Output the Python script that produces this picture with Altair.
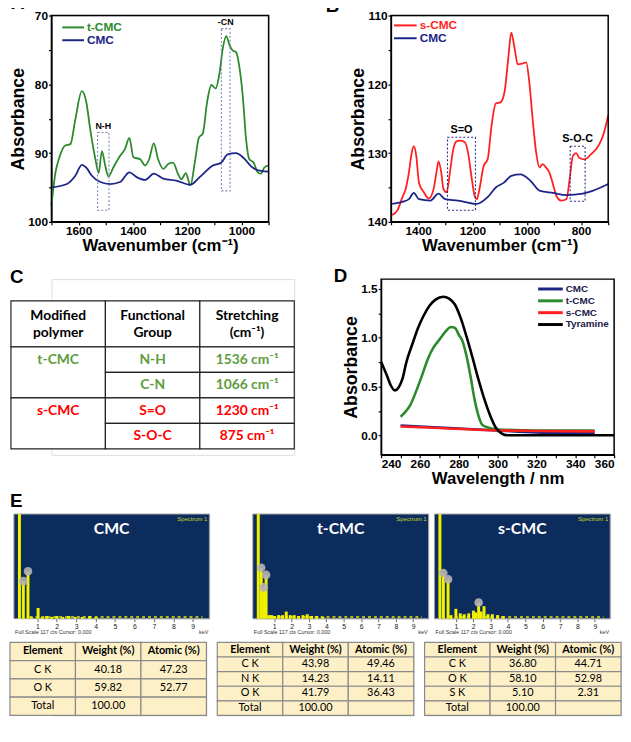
import altair as alt
import pandas as pd

FONT = "Liberation Sans"
TFONT = "Lato"
GREEN = "#2b8a2b"
NAVY = "#1c2488"
RED = "#ff1f1f"

# ---------------- Panel A : FTIR t-CMC vs CMC ----------------
a_tcmc_wn = [1700, 1685, 1673, 1649, 1630, 1612, 1588, 1572, 1557, 1538,
             1526, 1514, 1502, 1490, 1472, 1447, 1429, 1413, 1398, 1373,
             1355, 1340, 1323, 1307, 1288, 1270, 1252, 1234, 1221, 1205,
             1188, 1172, 1157, 1142, 1127, 1111, 1095, 1081, 1068, 1056,
             1044, 1032, 1020, 1008, 995, 983, 971, 955, 940, 928, 916, 900]
a_tcmc_abs = [97.6, 92.8, 90.9, 88.9, 88.7, 85.1, 81.0, 82.5, 86.6, 90.9,
              92.9, 89.7, 91.8, 93.4, 92.1, 90.4, 89.4, 87.8, 90.6, 90.9,
              91.8, 90.9, 88.6, 90.9, 92.3, 91.6, 91.4, 93.0, 93.8, 92.9,
              94.7, 91.4, 87.8, 87.1, 82.7, 80.1, 80.6, 78.4, 74.6, 73.0,
              74.3, 75.1, 75.3, 77.4, 81.8, 88.0, 90.9, 91.4, 92.8, 93.0, 92.1, 91.8]
a_cmc_wn = [1700, 1643, 1612, 1588, 1570, 1551, 1520, 1484, 1447, 1413, 1386, 1355, 1323,
            1288, 1240, 1188, 1154, 1105, 1075, 1051, 1020, 995, 959, 928, 900]
a_cmc_abs = [95.0, 94.5, 93.3, 91.7, 92.2, 93.3, 94.2, 94.5, 94.2, 92.8, 93.5, 93.9, 93.0,
             93.7, 94.0, 94.6, 93.5, 91.8, 91.4, 90.2, 90.0, 90.6, 92.1, 92.6, 92.7]
a_box_lo = [1488, 1042]
a_box_hi = [1530, 1074]
a_box_top = [87.0, 71.9]
a_box_bot = [98.3, 95.5]
a_box_txt = ["N-H", "-CN"]

# ---------------- Panel B : FTIR s-CMC vs CMC ----------------
b_scmc_wn = [1496, 1476, 1458, 1446, 1434, 1424, 1416, 1407, 1397, 1379,
             1361, 1343, 1331, 1325, 1315, 1307, 1295, 1283, 1271, 1259,
             1247, 1229, 1216, 1204, 1192, 1184, 1174, 1159, 1144, 1130,
             1114, 1096, 1081, 1069, 1057, 1045, 1033, 1017, 1002, 990,
             978, 965, 953, 941, 929, 917, 905, 891, 873, 854,
             842, 830, 818, 806, 788, 764, 734, 716, 700]
b_scmc_abs = [139.0, 138.3, 136.4, 135.2, 132.8, 130.0, 129.0, 130.4, 134.3, 135.7,
              136.6, 135.2, 132.4, 131.2, 132.8, 135.2, 135.7, 132.8, 129.5, 128.3,
              128.2, 128.4, 130.0, 133.3, 136.2, 136.7, 135.2, 131.9, 130.9, 126.1,
              122.8, 122.6, 120.9, 116.6, 112.5, 114.7, 117.1, 117.0, 116.8, 119.9,
              125.2, 130.0, 132.1, 131.6, 132.1, 132.8, 134.3, 136.2, 136.9, 136.7,
              133.8, 130.4, 130.0, 130.7, 130.9, 130.2, 128.8, 127.1, 124.5]
b_cmc_wn = [1496, 1458, 1434, 1416, 1397, 1355, 1325, 1301, 1253, 1184, 1144,
            1114, 1084, 1057, 1023, 987, 951, 903, 854, 794, 758, 700]
b_cmc_abs = [137.4, 137.1, 136.7, 135.8, 136.7, 136.9, 135.9, 136.7, 136.9, 137.4, 136.4,
             135.0, 134.3, 133.3, 133.1, 134.0, 135.5, 135.8, 136.1, 135.9, 135.5, 134.5]
b_box_lo = [1189, 785]
b_box_hi = [1292, 840]
b_box_top = [127.7, 129.0]
b_box_bot = [138.3, 137.0]
b_box_txt = ["S=O", "S-O-C"]

# ---------------- Panel C : table ----------------
c_header_1 = ["Modified", "Functional", "Stretching"]
c_header_2 = ["polymer", "Group", "(cm⁻¹)"]
c_polymer = ["t-CMC", "s-CMC"]
c_group = [["N-H", "C-N"], ["S=O", "S-O-C"]]
c_stretch = [["1536 cm⁻¹", "1066 cm⁻¹"], ["1230 cm⁻¹", "875 cm⁻¹"]]
c_color = ["#5e9c3c", "#ff0000"]

# ---------------- Panel D : UV-Vis ----------------
d_tyr_wl = [240, 243, 245, 247, 249, 251, 253, 256, 259, 262, 265, 268, 272,
            275, 278, 281, 284, 287, 290, 293, 296, 299, 302, 305, 310, 360]
d_tyr_abs = [0.75, 0.61, 0.51, 0.46, 0.49, 0.58, 0.75, 0.93, 1.10, 1.23, 1.33, 1.39, 1.42,
             1.40, 1.34, 1.20, 1.01, 0.80, 0.58, 0.38, 0.21, 0.08, 0.02, 0.0, 0.0, 0.0]
d_tcmc_wl = [250, 252, 255, 258, 261, 264, 267, 270, 273, 276, 278,
             280, 282, 284, 286, 288, 290, 292, 295, 300, 320, 350]
d_tcmc_abs = [0.19, 0.23, 0.31, 0.45, 0.61, 0.78, 0.90, 0.98, 1.06, 1.11, 1.10,
              1.03, 0.96, 0.81, 0.61, 0.38, 0.21, 0.11, 0.08, 0.06, 0.05, 0.05]
d_cmc_wl = [250, 270, 300, 320, 350]
d_cmc_abs = [0.10, 0.08, 0.05, 0.03, 0.02]
d_scmc_wl = [250, 270, 300, 320, 350]
d_scmc_abs = [0.09, 0.075, 0.05, 0.045, 0.04]
d_series = ["CMC", "t-CMC", "s-CMC", "Tyramine"]
d_colors = [NAVY, GREEN, RED, "black"]

# ---------------- Panel E : EDS ----------------
e_names = ["CMC", "t-CMC", "s-CMC"]
e_cmc_kev = [0.08, 0.28, 0.52, 0.70, 1.04, 1.25, 1.48, 1.74, 2.01, 2.31, 2.62, 2.95, 3.31, 3.69, 4.02]
e_cmc_cts = [117, 42, 53, 2, 12, 2, 3, 2, 3, 2, 3, 2, 2, 3, 2]
e_cmc_mk_kev = [0.28, 0.52]
e_cmc_mk_cts = [42, 53]
e_t_kev = [0.08, 0.25, 0.39, 0.53, 0.70, 0.85, 1.02, 1.25, 1.48, 1.69, 1.92, 2.15, 2.40, 2.65, 2.90, 3.15, 3.45, 3.80]
e_t_cts = [117, 57, 35, 49, 4, 4, 3, 4, 4, 8, 4, 4, 3, 4, 5, 3, 3, 2]
e_t_mk_kev = [0.25, 0.53, 0.39]
e_t_mk_cts = [57, 49, 35]
e_s_kev = [0.08, 0.28, 0.55, 0.72, 1.00, 1.25, 1.48, 1.74, 2.01, 2.15, 2.31, 2.45, 2.62, 2.85, 3.10, 3.40, 3.70]
e_s_cts = [117, 51, 44, 4, 11, 6, 5, 6, 9, 7, 18, 8, 14, 5, 5, 4, 3]
e_s_mk_kev = [0.28, 0.55, 2.31]
e_s_mk_cts = [51, 44, 18]
e_noise = [2, 2, 2]

e_tab_head = ["Element", "Weight (%)", "Atomic (%)"]
e_cmc_el = ["C K", "O K", "Total"]
e_cmc_wt = ["40.18", "59.82", "100.00"]
e_cmc_at = ["47.23", "52.77", ""]
e_t_el = ["C K", "N K", "O K", "Total"]
e_t_wt = ["43.98", "14.23", "41.79", "100.00"]
e_t_at = ["49.46", "14.11", "36.43", ""]
e_s_el = ["C K", "O K", "S K", "Total"]
e_s_wt = ["36.80", "58.10", "5.10", "100.00"]
e_s_at = ["44.71", "52.98", "2.31", ""]


# ---------------- helpers ----------------
def ax(**kw):
    base = dict(labelFont=FONT, labelFontWeight="bold", labelFontSize=12, labelColor="black",
                titleFont=FONT, titleFontWeight="bold", titleColor="black",
                domainColor="black", domainWidth=1.3, tickColor="black", tickWidth=1.2,
                tickSize=3, grid=False, labelPadding=1)
    base.update(kw)
    return alt.Axis(**base)


def letter(ch, x, y):
    return alt.Chart(pd.DataFrame({"t": [ch]})).mark_text(
        align="left", baseline="alphabetic", font=FONT, fontWeight="bold", fontSize=19,
        color="black").encode(x=alt.value(x), y=alt.value(y), text="t:N")


def frame(x0, x1, h, stroke="black", sw=1.5, fill="transparent"):
    return alt.Chart(pd.DataFrame({"f": [0]})).mark_rect(
        fill=fill, stroke=stroke, strokeWidth=sw).encode(
        x=alt.value(x0), x2=alt.value(x1), y=alt.value(0), y2=alt.value(h))


def legend_item(label, color, x0, x1, y, fs=12, tcolor=None, sw=2):
    d = pd.DataFrame({"t": [label]})
    r = alt.Chart(d).mark_rule(color=color, strokeWidth=sw).encode(
        x=alt.value(x0), x2=alt.value(x1), y=alt.value(y))
    t = alt.Chart(d).mark_text(align="left", baseline="middle", font=FONT, fontWeight="bold",
                               fontSize=fs, color=tcolor or color).encode(
        x=alt.value(x1 + 3), y=alt.value(y), text="t:N")
    return [r, t]


def ir_panel(ch, ch_xy, series, colors, xdom, ydom, boxes, box_color, box_fs, legpos, w, h):
    X = alt.X("wn:Q", scale=alt.Scale(domain=xdom, reverse=True, nice=False, zero=False),
              axis=ax(values=list(range(xdom[0], xdom[1] + 1, 100)),
                      labelExpr="datum.value % 200 == 0 ? format(datum.value, 'd') : ''",
                      title="Wavenumber (cm⁻¹)", titleFontSize=17, titlePadding=1))
    Y = alt.Y("val:Q", scale=alt.Scale(domain=ydom, reverse=True, nice=False, zero=False),
              axis=ax(values=list(range(ydom[0], ydom[1] + 1, 5)),
                      labelExpr="datum.value % 10 == 0 ? format(datum.value, 'd') : ''",
                      title="Absorbance", titleFontSize=18, titlePadding=0))
    layers = []
    for (name, wn, vals), col in zip(series, colors):
        df = pd.DataFrame({"wn": wn, "val": vals})
        layers.append(alt.Chart(df).mark_line(interpolate="monotone", strokeWidth=1.8,
                                              color=col).encode(x=X, y=Y))
    lo, hi, top, bot, txt = boxes
    bdf = pd.DataFrame({"wn": lo, "wn2": hi, "val": top, "val2": bot})
    ldf = pd.DataFrame({"wn": [(a + b) / 2 for a, b in zip(lo, hi)], "val": top, "txt": txt})
    layers.append(alt.Chart(bdf).mark_rect(fillOpacity=0, stroke=box_color, strokeDash=[2, 2],
                                           strokeWidth=1.1).encode(
        x=X, x2="wn2:Q", y=Y, y2="val2:Q"))
    layers.append(alt.Chart(ldf).mark_text(font=FONT, fontWeight="bold", fontSize=box_fs,
                                           color="black", baseline="bottom", dy=-2).encode(
        x=X, y=Y, text="txt:N"))
    layers.append(frame(0, w, h))
    (lx0, lx1, ly0, ly1) = legpos
    layers += legend_item(series[0][0], colors[0], lx0, lx1, ly0)
    layers += legend_item(series[1][0], colors[1], lx0, lx1, ly1)
    layers.append(letter(ch, ch_xy[0], ch_xy[1]))
    return alt.layer(*layers).properties(width=w, height=h)


# ---------------- build A, B ----------------
chartA = ir_panel("A", (-41, -7),
                  [("t-CMC", a_tcmc_wn, a_tcmc_abs), ("CMC", a_cmc_wn, a_cmc_abs)],
                  [GREEN, NAVY], [900, 1700], [70, 100],
                  (a_box_lo, a_box_hi, a_box_top, a_box_bot, a_box_txt), "#7884b8", 9,
                  (11, 33, 12, 25), 220, 209)
chartB = ir_panel("B", (-66, -4),
                  [("s-CMC", b_scmc_wn, b_scmc_abs), ("CMC", b_cmc_wn, b_cmc_abs)],
                  [RED, NAVY], [700, 1500], [110, 140],
                  (b_box_lo, b_box_hi, b_box_top, b_box_bot, b_box_txt), "#24308c", 11,
                  (3, 26, 10, 23), 220, 209)

# ---------------- build C ----------------
C_X0 = -41
C_W = 287
HDR = 1.8
cells = []
texts = {"head": [], c_polymer[0]: [], c_polymer[1]: []}
for ci in range(3):
    cells.append(dict(cx=ci, cx2=ci + 1, cy=0.0, cy2=HDR))
    texts["head"].append(dict(cx=ci + 0.5, cy=HDR / 2 - 0.32, txt=c_header_1[ci]))
    texts["head"].append(dict(cx=ci + 0.5, cy=HDR / 2 + 0.38, txt=c_header_2[ci]))
for gi, poly in enumerate(c_polymer):
    base = HDR + 2 * gi
    cells.append(dict(cx=0, cx2=1, cy=base, cy2=base + 2))
    texts[poly].append(dict(cx=0.5, cy=base + 0.5, txt=poly))
    for k in range(2):
        cells.append(dict(cx=1, cx2=2, cy=base + k, cy2=base + k + 1))
        cells.append(dict(cx=2, cx2=3, cy=base + k, cy2=base + k + 1))
        texts[poly].append(dict(cx=1.5, cy=base + k + 0.5, txt=c_group[gi][k]))
        texts[poly].append(dict(cx=2.5, cy=base + k + 0.5, txt=c_stretch[gi][k]))
CXE = alt.X("cx:Q", scale=alt.Scale(domain=[0, 3], range=[C_X0, C_X0 + C_W], nice=False,
                                    zero=False), axis=None)
CYE = alt.Y("cy:Q", scale=alt.Scale(domain=[-0.85, 6.03], reverse=True, nice=False, zero=False),
            axis=None)
c_layers = [alt.Chart(pd.DataFrame(cells)).mark_rect(fill="white", stroke="#222222",
                                                      strokeWidth=1.2).encode(
    x=CXE, x2="cx2:Q", y=CYE, y2="cy2:Q")]
for key, col in zip(["head"] + c_polymer, ["black"] + c_color):
    c_layers.append(alt.Chart(pd.DataFrame(texts[key])).mark_text(
        font=TFONT, fontWeight="bold", fontSize=14, baseline="middle", color=col).encode(
        x=CXE, y=CYE, text="txt:N"))
c_layers.append(letter("C", C_X0 - 1, 4))
chartC = alt.layer(*c_layers).properties(width=C_X0 + C_W, height=178)

# ---------------- build D ----------------
DX = alt.X("wl:Q", scale=alt.Scale(domain=[240, 360], nice=False, zero=False),
           axis=ax(values=list(range(240, 361, 10)),
                   labelExpr="datum.value % 20 == 0 ? format(datum.value, 'd') : ''",
                   title="Wavelength / nm", titleFontSize=17, titlePadding=1))
DY = alt.Y("val:Q", scale=alt.Scale(domain=[-0.2, 1.6], nice=False, zero=False),
           axis=ax(values=[0, 0.25, 0.5, 0.75, 1.0, 1.25, 1.5],
                   labelExpr="datum.value % 0.5 == 0 ? format(datum.value, '.1f') : ''",
                   title="Absorbance", titleFontSize=18, titlePadding=0))
d_layers = []
for wl, vals, col in zip([d_cmc_wl, d_tcmc_wl, d_scmc_wl, d_tyr_wl],
                         [d_cmc_abs, d_tcmc_abs, d_scmc_abs, d_tyr_abs], d_colors):
    d_layers.append(alt.Chart(pd.DataFrame({"wl": wl, "val": vals})).mark_line(
        interpolate="monotone", strokeWidth=2.6, color=col).encode(x=DX, y=DY))
d_layers.append(frame(0, 236, 178))
for i, (s, c) in enumerate(zip(d_series, d_colors)):
    d_layers += legend_item(s, c, 159, 184, 10 + 12 * i, fs=10, tcolor="#20204a", sw=3)
d_layers.append(letter("D", -48, 3))
# invisible spacer giving the row a little headroom
d_layers.append(alt.Chart(pd.DataFrame({"f": [0]})).mark_rule(strokeOpacity=0).encode(
    x=alt.value(0), x2=alt.value(1), y=alt.value(-20)))
chartD = alt.layer(*d_layers).properties(width=236, height=178)


# ---------------- build E ----------------
def eds_spectrum(name, kev, cts, mk_kev, mk_cts, noise, x0, w, with_letter):
    h = 106
    X = alt.X("kev:Q", scale=alt.Scale(domain=[0.05, 9.6], range=[x0, x0 + w], nice=False,
                                       zero=False),
              axis=alt.Axis(values=list(range(1, 10)), format="d", labelFont=FONT, labelFontSize=7,
                            labelColor="#222222", tickColor="#666666", tickSize=3, domain=False,
                            grid=False, title=None, labelPadding=1))
    Y = alt.Y("cts:Q", scale=alt.Scale(domain=[0, 117], nice=False, zero=True), axis=None)
    bg = frame(x0, x0 + w, h, stroke="#a0a0a0", sw=1, fill="#0c2c5e")
    nrule = alt.Chart(pd.DataFrame({"kev": [0.6], "kev2": [9.5], "cts": [noise]})).mark_rule(
        color="#e8e800", strokeDash=[3, 3], strokeWidth=1.5).encode(x=X, x2="kev2:Q", y=Y)
    bars = alt.Chart(pd.DataFrame({"kev": kev, "cts": cts})).mark_bar(
        size=3, color="#f2f200").encode(x=X, y=Y)
    marks = alt.Chart(pd.DataFrame({"kev": mk_kev, "cts": mk_cts})).mark_point(
        filled=True, size=75, color="#b4b4b4", opacity=0.9).encode(x=X, y=Y)
    title = alt.Chart(pd.DataFrame({"t": [name]})).mark_text(
        font=TFONT, fontWeight="bold", fontSize=16, color="white", baseline="middle").encode(
        x=alt.value(x0 + w / 2), y=alt.value(15), text="t:N")
    sp = alt.Chart(pd.DataFrame({"t": ["Spectrum 1"]})).mark_text(
        font=FONT, fontSize=6, color="#c8d820", align="right", baseline="top").encode(
        x=alt.value(x0 + w - 2), y=alt.value(2), text="t:N")
    fs = alt.Chart(pd.DataFrame({"t": ["Full Scale 117 cts Cursor: 0.000"]})).mark_text(
        font=FONT, fontSize=5.5, color="#333333", align="left", baseline="alphabetic").encode(
        x=alt.value(x0 + 1), y=alt.value(h + 16), text="t:N")
    kv = alt.Chart(pd.DataFrame({"t": ["keV"]})).mark_text(
        font=FONT, fontSize=5.5, color="#333333", align="right", baseline="alphabetic").encode(
        x=alt.value(x0 + w - 1), y=alt.value(h + 16), text="t:N")
    layers = [bg, nrule, bars, marks, title, sp, fs, kv]
    if with_letter:
        layers.append(letter("E", x0 - 4, -7))
    return alt.layer(*layers).properties(width=x0 + w, height=h)


def eds_table(el, wt, at, x0):
    w = 199
    cells, head, body = [], [], []
    for ci, hd in enumerate(e_tab_head):
        cells.append(dict(r=0, c=ci))
        head.append(dict(r=0, c=ci, txt=hd))
    for ri in range(len(el)):
        for ci, v in enumerate([el[ri], wt[ri], at[ri]]):
            cells.append(dict(r=ri + 1, c=ci))
            body.append(dict(r=ri + 1, c=ci, txt=v))
    n = len(el) + 1
    X = alt.X("c:O", axis=None, scale=alt.Scale(domain=[0, 1, 2], range=[x0, x0 + w],
                                                paddingInner=0, paddingOuter=0))
    Y = alt.Y("r:O", axis=None, scale=alt.Scale(domain=list(range(n)), paddingInner=0,
                                                paddingOuter=0))
    rect = alt.Chart(pd.DataFrame(cells)).mark_rect(fill="#fdf0c6", stroke="#8a8a8a",
                                                    strokeWidth=1.2).encode(x=X, y=Y)
    th = alt.Chart(pd.DataFrame(head)).mark_text(
        font=TFONT, fontWeight="bold", fontSize=11, color="black").encode(x=X, y=Y, text="txt:N")
    tb = alt.Chart(pd.DataFrame(body)).mark_text(
        font=TFONT, fontSize=11, color="black").encode(x=X, y=Y, text="txt:N")
    return alt.layer(rect, th, tb).properties(width=x0 + w, height=74)


specs = [
    eds_spectrum(e_names[0], e_cmc_kev, e_cmc_cts, e_cmc_mk_kev, e_cmc_mk_cts, e_noise[0],
                 -38, 198, True),
    eds_spectrum(e_names[1], e_t_kev, e_t_cts, e_t_mk_kev, e_t_mk_cts, e_noise[1], 0, 178, False),
    eds_spectrum(e_names[2], e_s_kev, e_s_cts, e_s_mk_kev, e_s_mk_cts, e_noise[2], 0, 178, False),
]
tabs = [eds_table(e_cmc_el, e_cmc_wt, e_cmc_at, -42),
        eds_table(e_t_el, e_t_wt, e_t_at, 0),
        eds_table(e_s_el, e_s_wt, e_s_at, 0)]

row1 = alt.hconcat(chartA, chartB, spacing=52)
row2 = alt.hconcat(chartC, chartD, spacing=37)
row3 = alt.hconcat(*specs, spacing=4)
row4 = alt.hconcat(*tabs, spacing=7)

chart = alt.concat(row1, row2, row3, row4, columns=1, spacing=4, align="none").properties(
    padding={"left": 0, "top": -20, "right": 0, "bottom": 0}
).configure(font=FONT)

chart.save("out.html", embed_options={"renderer": "svg", "actions": False})
